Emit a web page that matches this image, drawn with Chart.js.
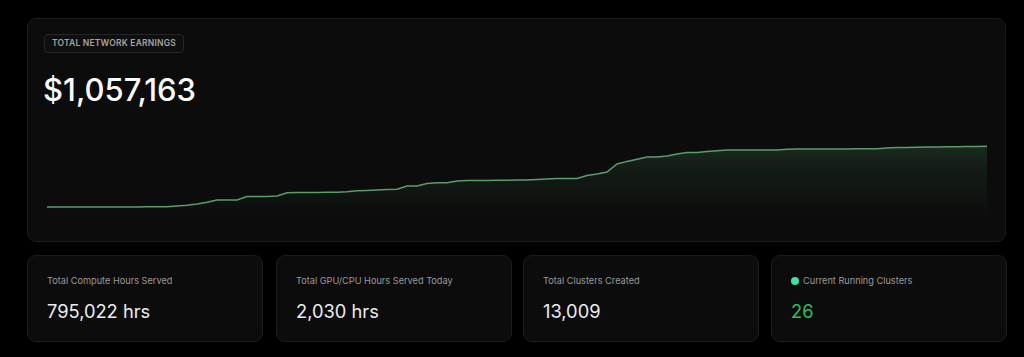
<!DOCTYPE html>
<html>
<head>
<meta charset="utf-8">
<script src="https://cdn.jsdelivr.net/npm/chart.js@4/dist/chart.umd.min.js"></script>
<style>
  html, body { margin:0; padding:0; background:#000; width:1024px; height:357px; overflow:hidden; font-family: Inter, "Noto Sans", sans-serif; }
  .card { position:absolute; background:#0c0c0c; border:1px solid #1c1c1c; border-radius:9px; box-sizing:border-box; }
  .pill { position:absolute; left:44px; top:34px; width:140px; height:19px; box-sizing:border-box; border:1px solid #262626; border-radius:4px; background:#0f0f0f; color:#a3a3a3; font-size:8.5px; font-weight:600; letter-spacing:0.2px; line-height:17px; text-align:center; }
  .big { position:absolute; left:43px; top:70px; font-size:31px; font-weight:500; color:#fafafa; line-height:40px; }
  .lbl { position:absolute; left:19px; top:19px; font-size:9.2px; color:#9a9a9a; line-height:12px; }
  .val { position:absolute; left:19px; top:42px; font-size:18.3px; color:#ececec; line-height:26px; }
  .dot { display:inline-block; width:8px; height:8px; border-radius:50%; background:#3fe0b0; margin-right:4px; vertical-align:-1px; }
  #chartBox { position:absolute; left:47px; top:140px; width:940px; height:82px; }
</style>
</head>
<body>
<div class="card" style="left:27px; top:18px; width:979px; height:224px;"></div>
<div class="pill">TOTAL NETWORK EARNINGS</div>
<div class="big" id="total"></div>
<div id="chartBox"><canvas id="c"></canvas></div>

<div class="card" style="left:27px; top:255px; width:236px; height:87px;">
  <div class="lbl">Total Compute Hours Served</div>
  <div class="val">795,022 hrs</div>
</div>
<div class="card" style="left:276px; top:255px; width:236px; height:87px;">
  <div class="lbl">Total GPU/CPU Hours Served Today</div>
  <div class="val">2,030 hrs</div>
</div>
<div class="card" style="left:523px; top:255px; width:236px; height:87px;">
  <div class="lbl">Total Clusters Created</div>
  <div class="val">13,009</div>
</div>
<div class="card" style="left:771px; top:255px; width:236px; height:87px;">
  <div class="lbl"><span class="dot"></span>Current Running Clusters</div>
  <div class="val" style="color:#2fbf5f;">26</div>
</div>

<script>
// Cumulative network earnings, thousands of USD
const earnings = [
  209.5, 209.5, 209.5, 209.5, 209.5, 209.5, 210.2, 210.9, 210.9, 210.9,
  211.6, 212.3, 212.3, 223.4, 234.6, 252.8, 276.5, 307.2, 307.2, 307.2,
  356.1, 356.1, 356.1, 363.1, 409.2, 410.6, 412.0, 413.4, 414.8, 414.8,
  421.7, 437.1, 441.3, 446.9, 452.5, 458.1, 502.7, 502.7, 537.7, 547.4,
  547.4, 572.6, 578.2, 579.5, 580.9, 582.3, 583.7, 585.1, 586.5, 593.5,
  601.9, 606.1, 607.5, 608.9, 649.4, 670.3, 698.3, 810.0, 846.3, 875.6,
  906.3, 907.7, 921.7, 949.6, 969.2, 970.6, 984.5, 995.7, 1005.5, 1005.5,
  1005.5, 1005.5, 1005.5, 1005.5, 1016.7, 1019.4, 1019.4, 1019.4, 1020.8, 1020.8,
  1020.8, 1022.2, 1022.2, 1022.2, 1033.4, 1039.0, 1041.8, 1044.6, 1047.4, 1048.8,
  1050.2, 1051.6, 1053.0, 1055.8, 1057.163
];
const days = earnings.map((_, i) => 'Day ' + (i + 1));
const totalEarnings = 1057163;
const yMin = 0;
const yMax = 1145;

document.getElementById('total').textContent = '$' + totalEarnings.toLocaleString('en-US');

const ctx = document.getElementById('c').getContext('2d');
const grad = ctx.createLinearGradient(0, 0, 0, 82);
grad.addColorStop(0, 'rgba(80,160,100,0.24)');
grad.addColorStop(0.35, 'rgba(80,160,100,0.11)');
grad.addColorStop(1, 'rgba(80,160,100,0.0)');

new Chart(ctx, {
  type: 'line',
  data: {
    labels: days,
    datasets: [{
      data: earnings,
      borderColor: 'rgb(92,156,108)',
      borderWidth: 1.5,
      backgroundColor: grad,
      fill: 'start',
      pointRadius: 0,
      tension: 0,
      clip: false
    }]
  },
  options: {
    responsive: true,
    maintainAspectRatio: false,
    animation: false,
    layout: { padding: 0 },
    plugins: { legend: { display: false }, tooltip: { enabled: false } },
    scales: {
      x: { display: false, offset: false },
      y: { display: false, min: yMin, max: yMax }
    }
  }
});
</script>
</body>
</html>
